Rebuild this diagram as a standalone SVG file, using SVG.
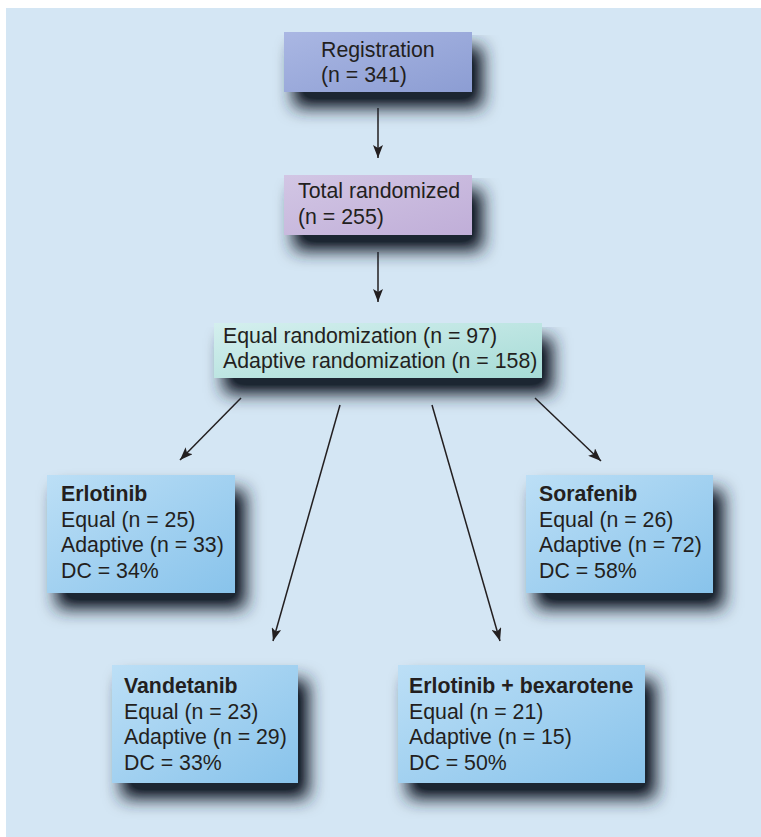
<svg xmlns="http://www.w3.org/2000/svg" width="761" height="837" viewBox="0 0 761 837">
  <defs>
    <style>
      text { font-family: "Liberation Sans", Arial, sans-serif; font-size: 21.3px; fill: #231f20; }
      .b { font-weight: bold; }
      .conn line { stroke: #231f20; stroke-width: 1.5; }
    </style>
    <filter id="sh" x="-20%" y="-20%" width="160%" height="200%">
      <feGaussianBlur in="SourceAlpha" stdDeviation="9"/>
      <feOffset dx="10" dy="15" result="o"/>
      <feComponentTransfer in="o" result="o2">
        <feFuncA type="linear" slope="1.2"/>
      </feComponentTransfer>
      <feFlood flood-color="#1e2633" flood-opacity="1"/>
      <feComposite in2="o2" operator="in" result="s"/>
      <feMerge><feMergeNode in="s"/><feMergeNode in="SourceGraphic"/></feMerge>
    </filter>
    <linearGradient id="gReg" x1="0" y1="0" x2="1" y2="1">
      <stop offset="0" stop-color="#aab7e3"/>
      <stop offset="1" stop-color="#8c9dd3"/>
    </linearGradient>
    <linearGradient id="gTot" x1="0" y1="0" x2="1" y2="1">
      <stop offset="0" stop-color="#d2c6e4"/>
      <stop offset="1" stop-color="#c0aed8"/>
    </linearGradient>
    <linearGradient id="gEq" x1="0" y1="0" x2="1" y2="1">
      <stop offset="0" stop-color="#d4efee"/>
      <stop offset="1" stop-color="#a6dbd6"/>
    </linearGradient>
    <linearGradient id="gBlue" x1="0" y1="0" x2="1" y2="1">
      <stop offset="0" stop-color="#bcdff6"/>
      <stop offset="1" stop-color="#88c3eb"/>
    </linearGradient>
    <marker id="ah" markerUnits="userSpaceOnUse" markerWidth="14" markerHeight="10" refX="13" refY="5" orient="auto">
      <path d="M0,0 L13,5 L0,10 L3,5 Z" fill="#231f20"/>
    </marker>
  </defs>

  <rect x="0" y="0" width="761" height="837" fill="#ffffff"/>
  <rect x="6" y="8" width="755" height="829" fill="#d4e6f4"/>

  <g class="conn" id="connectors">
    <line x1="378" y1="108" x2="378" y2="158" marker-end="url(#ah)"/>
    <line x1="378" y1="252" x2="378" y2="302" marker-end="url(#ah)"/>
    <line x1="241" y1="398" x2="180" y2="460" marker-end="url(#ah)"/>
    <line x1="340" y1="405" x2="273" y2="641" marker-end="url(#ah)"/>
    <line x1="432" y1="405" x2="500" y2="641" marker-end="url(#ah)"/>
    <line x1="535" y1="398" x2="601" y2="461" marker-end="url(#ah)"/>
  </g>

  <g id="registration">
    <rect x="284" y="32" width="188" height="60" fill="url(#gReg)" filter="url(#sh)"/>
    <text x="321" y="57">Registration</text>
    <text x="321" y="82">(n = 341)</text>
  </g>

  <g id="total-randomized">
    <rect x="284" y="175" width="188" height="60" fill="url(#gTot)" filter="url(#sh)"/>
    <text x="298" y="198">Total randomized</text>
    <text x="298" y="224">(n = 255)</text>
  </g>

  <g id="randomization">
    <rect x="214" y="323" width="328" height="55" fill="url(#gEq)" filter="url(#sh)"/>
    <text x="223" y="343">Equal randomization (n = 97)</text>
    <text x="223" y="368">Adaptive randomization (n = 158)</text>
  </g>

  <g id="erlotinib">
    <rect x="47" y="475" width="188" height="118" fill="url(#gBlue)" filter="url(#sh)"/>
    <text x="61" y="501" class="b">Erlotinib</text>
    <text x="61" y="527">Equal (n = 25)</text>
    <text x="61" y="552">Adaptive (n = 33)</text>
    <text x="61" y="578">DC = 34%</text>
  </g>

  <g id="sorafenib">
    <rect x="526" y="475" width="187" height="118" fill="url(#gBlue)" filter="url(#sh)"/>
    <text x="539" y="501" class="b">Sorafenib</text>
    <text x="539" y="527">Equal (n = 26)</text>
    <text x="539" y="552">Adaptive (n = 72)</text>
    <text x="539" y="578">DC = 58%</text>
  </g>

  <g id="vandetanib">
    <rect x="112" y="665" width="186" height="118" fill="url(#gBlue)" filter="url(#sh)"/>
    <text x="124" y="693" class="b">Vandetanib</text>
    <text x="124" y="719">Equal (n = 23)</text>
    <text x="124" y="744">Adaptive (n = 29)</text>
    <text x="124" y="770">DC = 33%</text>
  </g>

  <g id="erlotinib-bexarotene">
    <rect x="398" y="665" width="247" height="118" fill="url(#gBlue)" filter="url(#sh)"/>
    <text x="409" y="693" class="b">Erlotinib + bexarotene</text>
    <text x="409" y="719">Equal (n = 21)</text>
    <text x="409" y="744">Adaptive (n = 15)</text>
    <text x="409" y="770">DC = 50%</text>
  </g>
</svg>
